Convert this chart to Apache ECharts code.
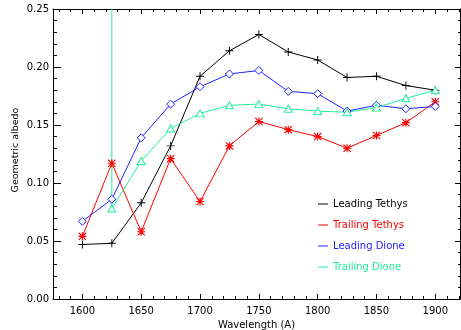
<!DOCTYPE html>
<html>
<head>
<meta charset="utf-8">
<script src="https://cdn.jsdelivr.net/npm/echarts@6/dist/echarts.min.js"></script>
<style>html,body{margin:0;padding:0;background:#fff}#c{width:461px;height:330px}</style>
</head>
<body>
<div id="c"></div>
<script>
// Data
const wavelengths = [1600,1625,1650,1675,1700,1725,1750,1775,1800,1825,1850,1875,1900];
const leadingTethys  = [0.047,0.048,0.083,0.132,0.192,0.214,0.228,0.213,0.206,0.191,0.192,0.184,0.180];
const trailingTethys = [0.054,0.117,0.058,0.121,0.084,0.132,0.153,0.146,0.140,0.130,0.141,0.152,0.170];
const leadingDione   = [0.067,0.086,0.139,0.168,0.183,0.194,0.197,0.179,0.177,0.162,0.167,0.164,0.166];
const trailingDioneX = [1625,1625,1650,1675,1700,1725,1750,1775,1800,1825,1850,1875,1900];
const trailingDione  = [0.300,0.078,0.119,0.147,0.160,0.167,0.168,0.164,0.162,0.161,0.165,0.173,0.180];
const xMajorTicks = [1600,1650,1700,1750,1800,1850,1900];
const xMinorTicks = [1580,1590,1600,1610,1620,1630,1640,1650,1660,1670,1680,1690,1700,1710,1720,1730,1740,1750,1760,1770,1780,1790,1800,1810,1820,1830,1840,1850,1860,1870,1880,1890,1900,1910,1920];
const seriesNames = ['Leading Tethys','Trailing Tethys','Leading Dione','Trailing Dione'];
const colors = ['#000000','#ff0000','#2020ff','#1ef09a'];

const FONT = 'DejaVu Sans';
const PLUS = 'path://M4.4,0H5.6V4.4H10V5.6H5.6V10H4.4V5.6H0V4.4H4.4Z';
const STAR = 'path://M4.3,0H5.7V4.3H10V5.7H5.7V10H4.3V5.7H0V4.3H4.3ZM0,1L1,0L10,9L9,10ZM9,0L10,1L1,10L0,9Z';

function pairs(xs, ys){ return xs.map((x,i)=>[x, ys[i]]); }

const XMIN = 1575, XMAX = 1921;
const axisLineStyle = {lineStyle:{color:'#000',width:1}};
function xAx(pos, major, withLabel){
  return {
    type:'value', position:pos, min:XMIN, max:XMAX,
    axisLine: {show: major, ...axisLineStyle},
    axisTick: {show:true, inside:true, length: major?5:3, customValues: major?xMajorTicks:xMinorTicks, lineStyle:{color:'#000',width:1}},
    axisLabel: {show: withLabel, customValues: xMajorTicks, color:'#000', fontFamily:FONT, fontSize:10, margin:7, formatter:v=>String(v)},
    splitLine:{show:false},
    name: withLabel ? 'Wavelength (A)' : '',
    nameLocation:'middle', nameGap:20,
    nameTextStyle:{color:'#000', fontFamily:FONT, fontSize:10}
  };
}
function yAx(pos, withLabel){
  return {
    type:'value', position:pos, min:0, max:0.25, interval:0.05,
    axisLine:{show:true, ...axisLineStyle},
    axisTick:{show:true, inside:true, length: withLabel?8:5, lineStyle:{color:'#000'}},
    minorTick:{show:true, splitNumber:5, length: withLabel?4:2, lineStyle:{color:'#000'}},
    axisLabel:{show:withLabel, color:'#000', fontFamily:FONT, fontSize:10, margin:4, formatter:v=>v.toFixed(2)},
    splitLine:{show:false}, minorSplitLine:{show:false},
    name: withLabel ? 'Geometric albedo' : '',
    nameLocation:'middle', nameGap:32, nameMoveOverlap:false,
    nameTextStyle:{color:'#000', fontFamily:FONT, fontSize:9.5, padding:[0,0,0,8]}
  };
}

const chart = echarts.init(document.getElementById('c'), null, {renderer:'canvas'});
const lineBase = (name, color, data, symbol, size, hollow) => ({
  name, type:'line', data, xAxisIndex:0, yAxisIndex:0,
  symbol, symbolSize:size, showAllSymbol:true, clip:true,
  lineStyle:{color, width:1},
  itemStyle: hollow ? {color:'#fff', borderColor:color, borderWidth:1} : {color, borderWidth:0},
  emphasis:{disabled:true}, animation:false
});

const tdData = pairs(trailingDioneX, trailingDione).map((p,i)=> i===0 ? {value:p, symbol:'none'} : p);

chart.setOption({
  animation:false,
  backgroundColor:'#fff',
  grid:{left:53, right:1, top:9, bottom:31, containLabel:false, outerBoundsMode:'none'},
  xAxis:[xAx('bottom',true,true), xAx('bottom',false,false), xAx('top',true,false), xAx('top',false,false)],
  yAxis:[yAx('left',true), yAx('right',false)],
  legend:{
    orient:'vertical', left:318, top:199, padding:0, itemGap:11, itemWidth:10, itemHeight:1,
    icon:'rect',
    textStyle:{fontFamily:FONT, fontSize:10, padding:[0,0,4,0]},
    data: seriesNames.map((n,i)=>({name:n, itemStyle:{color:colors[i], borderWidth:0}, textStyle:{color:colors[i]}})),
    selectedMode:false
  },
  series:[
    lineBase(seriesNames[0], colors[0], pairs(wavelengths, leadingTethys), PLUS, 8, false),
    lineBase(seriesNames[1], colors[1], pairs(wavelengths, trailingTethys), STAR, 8, false),
    lineBase(seriesNames[2], colors[2], pairs(wavelengths, leadingDione), 'diamond', [8,8], true),
    lineBase(seriesNames[3], colors[3], tdData, 'triangle', [8,7], true)
  ]
});
</script>
</body>
</html>
